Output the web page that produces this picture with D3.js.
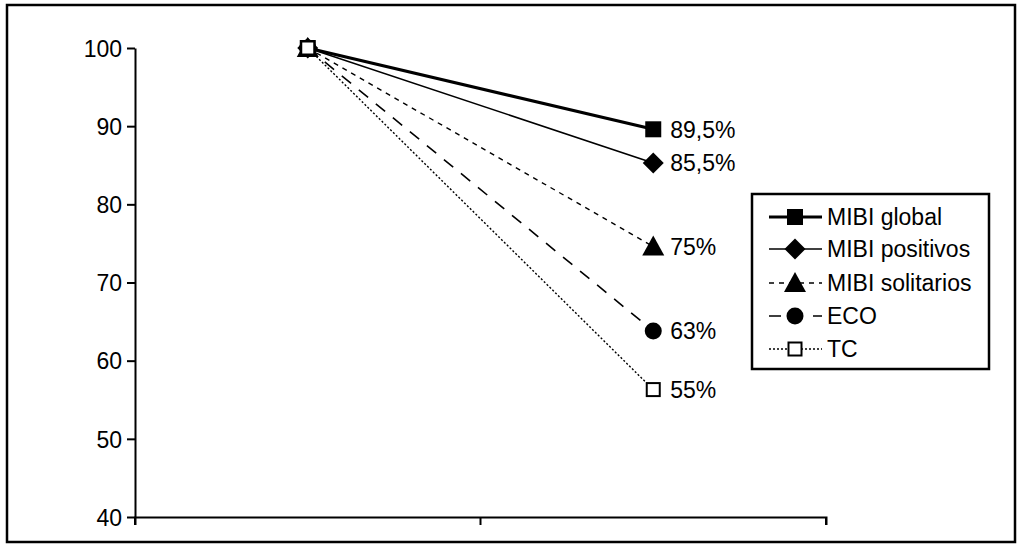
<!DOCTYPE html>
<html>
<head>
<meta charset="utf-8">
<script src="https://cdn.jsdelivr.net/npm/d3@7"></script>
<style>
  html, body { margin: 0; padding: 0; background: #fff; }
  svg { display: block; }
  text { font-family: "Liberation Sans", Arial, Helvetica, sans-serif; fill: #000; }
</style>
</head>
<body>
<svg id="chart" width="1024" height="551"></svg>
<script>
// ---- data ----
const categories = ["inicio", "final"];
const seriesNames = ["MIBI global", "MIBI positivos", "MIBI solitarios", "ECO", "TC"];
const startValues = [100, 100, 100, 100, 100];
const endValues = [89.6, 85.3, 74.6, 63.8, 56.3];
const endLabels = ["89,5%", "85,5%", "75%", "63%", "55%"];
const yTicks = [40, 50, 60, 70, 80, 90, 100];

// ---- styles ----
const styles = [
  { width: 3.2, dash: null, marker: "square" },
  { width: 1.6, dash: null, marker: "diamond" },
  { width: 1.4, dash: "5,5", marker: "triangle" },
  { width: 1.6, dash: "12,10", marker: "circle" },
  { width: 1.4, dash: "2,2", marker: "opensquare" }
];
const fontSize = "23px";

const svg = d3.select("#chart");

// outer frame
svg.append("rect").attr("x", 7).attr("y", 5).attr("width", 1008).attr("height", 537)
  .attr("fill", "none").attr("stroke", "#000").attr("stroke-width", 2.5);

const x = d3.scaleBand().domain(categories).range([135, 826]);
const y = d3.scaleLinear().domain([40, 100]).range([517, 48]);

// y axis
const yAxis = d3.axisLeft(y).tickValues(yTicks).tickSize(8).tickPadding(5).tickSizeOuter(0);
const gy = svg.append("g").attr("transform", "translate(135,0)").call(yAxis);
gy.selectAll("path, line").attr("stroke", "#000").attr("stroke-width", 2);
gy.selectAll("text").style("font-size", fontSize).attr("dy", "0.36em");

// x axis with ticks at band edges
const xAxis = d3.axisBottom(x).tickValues([]).tickSizeOuter(8);
const gx = svg.append("g").attr("transform", "translate(0,517)").call(xAxis);
gx.select("path").attr("stroke", "#000").attr("stroke-width", 2);
const edges = [x.range()[0], x(categories[1]), x.range()[1]];
gx.selectAll("line.edge").data(edges).enter().append("line")
  .attr("x1", d => d).attr("x2", d => d).attr("y1", 0).attr("y2", 8)
  .attr("stroke", "#000").attr("stroke-width", 2);

const cx = c => x(c) + x.bandwidth() / 2;

function drawMarker(g, type, px, py) {
  if (type === "square") {
    g.append("rect").attr("x", px - 8).attr("y", py - 8).attr("width", 16).attr("height", 16).attr("fill", "#000");
  } else if (type === "diamond") {
    const r = 10.5;
    g.append("path").attr("d", `M${px},${py - r}L${px + r},${py}L${px},${py + r}L${px - r},${py}Z`).attr("fill", "#000");
  } else if (type === "triangle") {
    const w = 11;
    g.append("path").attr("d", `M${px},${py - 11}L${px + w},${py + 9}L${px - w},${py + 9}Z`).attr("fill", "#000");
  } else if (type === "circle") {
    g.append("circle").attr("cx", px).attr("cy", py).attr("r", 8.5).attr("fill", "#000");
  } else if (type === "opensquare") {
    g.append("rect").attr("x", px - 6.5).attr("y", py - 6.5).attr("width", 13).attr("height", 13)
      .attr("fill", "#fff").attr("stroke", "#000").attr("stroke-width", 2);
  }
}

const line = d3.line().x(d => cx(d.c)).y(d => y(d.v));
const plot = svg.append("g");

seriesNames.forEach((name, i) => {
  const pts = [{ c: categories[0], v: startValues[i] }, { c: categories[1], v: endValues[i] }];
  plot.append("path").datum(pts).attr("d", line).attr("fill", "none")
    .attr("stroke", "#000").attr("stroke-width", styles[i].width)
    .attr("stroke-dasharray", styles[i].dash);
});
seriesNames.forEach((name, i) => {
  drawMarker(plot, styles[i].marker, cx(categories[0]), y(startValues[i]));
  drawMarker(plot, styles[i].marker, cx(categories[1]), y(endValues[i]));
  plot.append("text").attr("x", cx(categories[1]) + 17).attr("y", y(endValues[i]))
    .attr("dy", "0.36em").style("font-size", fontSize).text(endLabels[i]);
});

// legend
const leg = svg.append("g");
leg.append("rect").attr("x", 752).attr("y", 194).attr("width", 237).attr("height", 175)
  .attr("fill", "#fff").attr("stroke", "#000").attr("stroke-width", 2.5);
const legY = [217, 249, 283, 316, 349];
seriesNames.forEach((name, i) => {
  const ly = legY[i];
  leg.append("line").attr("x1", 769).attr("x2", 822).attr("y1", ly).attr("y2", ly)
    .attr("stroke", "#000").attr("stroke-width", styles[i].width)
    .attr("stroke-dasharray", styles[i].dash);
  drawMarker(leg, styles[i].marker, 795, ly);
  leg.append("text").attr("x", 827).attr("y", ly).attr("dy", "0.36em")
    .style("font-size", fontSize).text(name);
});
</script>
</body>
</html>
